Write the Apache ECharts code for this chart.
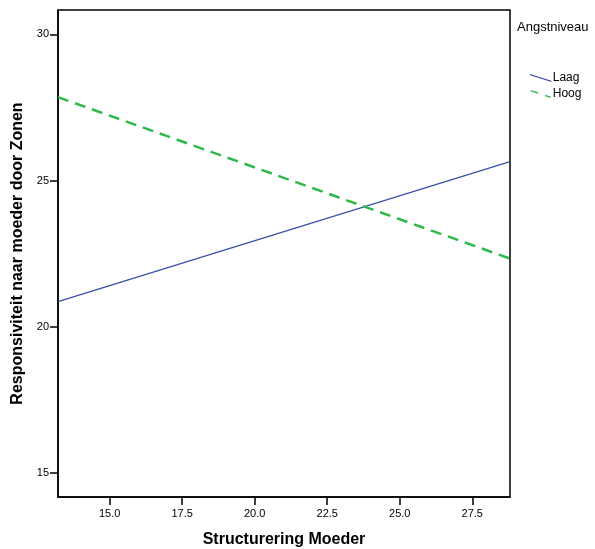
<!DOCTYPE html>
<html><head><meta charset="utf-8">
<script src="https://cdn.jsdelivr.net/npm/echarts@6/dist/echarts.min.js"></script>
<style>html,body{margin:0;padding:0;background:#fff}#c{width:595px;height:549px}</style>
</head><body><div id="c"></div>
<script>
const xRange = [13.22, 28.80];
const yRange = [14.18, 30.83];
const xTicks = [15.0, 17.5, 20.0, 22.5, 25.0, 27.5];
const yTicks = [15, 20, 25, 30];
const laagValues = [20.86, 25.65];
const hoogValues = [27.85, 22.33];
const seriesNames = ['Laag', 'Hoog'];

const chart = echarts.init(document.getElementById('c'));
const font = 'Liberation Sans, Arial, sans-serif';
chart.setOption({
  animation: false,
  grid: {left: 58, right: 85, top: 10, bottom: 52, outerBoundsMode: 'none', containLabel: false, show: true, borderColor: '#000', borderWidth: 1.5, backgroundColor: '#fff'},
  title: {text: 'Angstniveau', left: 512, top: 16, textStyle: {fontFamily: font, fontSize: 13, fontWeight: 'normal', color: '#000'}},
  legend: {
    orient: 'vertical', left: 525, top: 67, itemWidth: 22, itemHeight: 8, itemGap: 4,
    textStyle: {fontFamily: font, fontSize: 12, color: '#000', padding: [0,0,0,-4]},
    data: [
      {name: seriesNames[0], icon: 'path://M0,0 L22,7 L22,8.2 L0,1.2 Z'},
      {name: seriesNames[1], icon: 'path://M0,0 L8,2.5 L8,4.1 L0,1.6 Z M16,5.3 L22,7.3 L22,8.9 L16,6.9 Z'}
    ]
  },
  xAxis: {
    type: 'value', min: xRange[0], max: xRange[1],
    name: 'Structurering Moeder', nameLocation: 'middle', nameGap: 35,
    nameTextStyle: {fontFamily: font, fontSize: 16, fontWeight: 'bold', color: '#000'},
    splitLine: {show: false},
    axisLine: {show: true, lineStyle: {color: '#000', width: 1.5}},
    axisTick: {show: true, length: 8, customValues: xTicks, lineStyle: {color: '#000', width: 1.5}},
    axisLabel: {customValues: xTicks, formatter: v => v.toFixed(1), fontFamily: font, fontSize: 11, color: '#000', margin: 11}
  },
  yAxis: {
    type: 'value', min: yRange[0], max: yRange[1],
    name: 'Responsiviteit naar moeder door Zonen', nameLocation: 'middle', nameGap: 29, nameRotate: 90,
    nameTextStyle: {fontFamily: font, fontSize: 16, fontWeight: 'bold', color: '#000'},
    splitLine: {show: false},
    axisLine: {show: true, lineStyle: {color: '#000', width: 1.5}},
    axisTick: {show: true, length: 8, customValues: yTicks, lineStyle: {color: '#000', width: 1.5}},
    axisLabel: {customValues: yTicks, fontFamily: font, fontSize: 11, color: '#000', margin: 9}
  },
  series: [
    {name: seriesNames[0], type: 'line', symbol: 'none', data: [[xRange[0], laagValues[0]], [xRange[1], laagValues[1]]],
     lineStyle: {color: '#3a4fa8', width: 1.3}, itemStyle: {color: '#3a4fa8'}},
    {name: seriesNames[1], type: 'line', symbol: 'none', data: [[xRange[0], hoogValues[0]], [xRange[1], hoogValues[1]]],
     lineStyle: {color: '#2fb84a', width: 2.5, type: [11, 7]}, itemStyle: {color: '#2fb84a'}}
  ]
});
</script></body></html>
